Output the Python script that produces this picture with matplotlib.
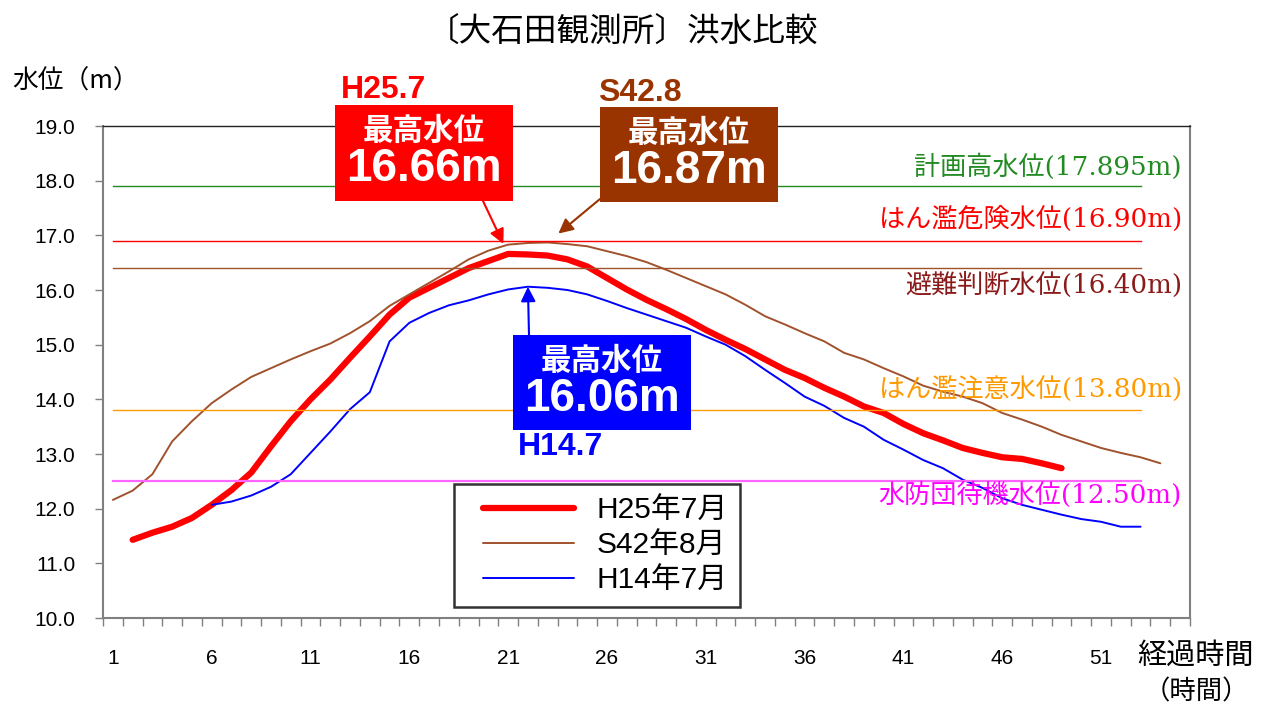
import matplotlib
matplotlib.use("Agg")
import matplotlib.pyplot as plt
from matplotlib.patches import Rectangle
from matplotlib.legend_handler import HandlerLine2D
import numpy as np

# elapsed hours (category axis) and water levels
hours = np.arange(1, 56)
tick_hours = [1, 6, 11, 16, 21, 26, 31, 36, 41, 46, 51]

h25_hours = np.arange(2, 50)
h25_level = [11.43, 11.56, 11.67, 11.83, 12.07, 12.34, 12.66, 13.14, 13.60, 14.00,
             14.36, 14.76, 15.15, 15.55, 15.86, 16.04, 16.22, 16.40, 16.53, 16.66,
             16.65, 16.63, 16.56, 16.43, 16.22, 16.01, 15.82, 15.65, 15.47, 15.27,
             15.09, 14.92, 14.73, 14.54, 14.39, 14.21, 14.05, 13.87, 13.75, 13.55,
             13.38, 13.25, 13.11, 13.02, 12.94, 12.91, 12.83, 12.74]

s42_hours = np.arange(1, 55)
s42_level = [12.16, 12.33, 12.63, 13.23, 13.60, 13.93, 14.18, 14.41, 14.57, 14.73,
             14.88, 15.02, 15.21, 15.43, 15.71, 15.92, 16.13, 16.34, 16.56, 16.72,
             16.83, 16.86, 16.87, 16.84, 16.80, 16.71, 16.62, 16.51, 16.37, 16.22,
             16.07, 15.92, 15.73, 15.52, 15.37, 15.21, 15.06, 14.85, 14.73, 14.57,
             14.42, 14.25, 14.14, 14.05, 13.93, 13.75, 13.63, 13.50, 13.35, 13.23,
             13.11, 13.02, 12.94, 12.83]

h14_hours = np.arange(6, 54)
h14_level = [12.07, 12.13, 12.24, 12.40, 12.63, 13.02, 13.41, 13.82, 14.13, 15.06,
             15.40, 15.58, 15.72, 15.81, 15.92, 16.01, 16.06, 16.04, 16.00, 15.92,
             15.80, 15.67, 15.55, 15.43, 15.31, 15.15, 15.00, 14.79, 14.54, 14.30,
             14.05, 13.88, 13.66, 13.50, 13.26, 13.08, 12.89, 12.74, 12.53, 12.38,
             12.19, 12.07, 11.98, 11.89, 11.81, 11.76, 11.67, 11.67]

series_names = ['H25年7月', 'S42年8月', 'H14年7月']
peak_tags = ['H25.7', 'S42.8', 'H14.7']

ref_hours = np.arange(1, 54)
ref_levels = [17.895, 16.90, 16.40, 13.80, 12.50]
ref_names = ['計画高水位(17.895m)', 'はん濫危険水位(16.90m)', '避難判断水位(16.40m)',
             'はん濫注意水位(13.80m)', '水防団待機水位(12.50m)']

# styles
series_colors = ['#FF0000', '#A0522D', '#0000FF']
series_widths = [4.5, 1.4, 1.4]
box_colors = ['#FF0000', '#993300', '#0000FF']
ref_line_colors = ['#228B22', '#FF0000', '#A0522D', '#FF9900', '#FF66FF']
ref_text_colors = ['#228B22', '#FF0000', '#8B1A1A', '#FF9900', '#FF00FF']
ref_offsets = [14, 16, -12, 15, -10]  # label offset from its line, points

CJK = ['Noto Sans CJK JP']
SANS = ['Liberation Sans', 'Noto Sans CJK JP']
SERIF = ['DejaVu Serif', 'Noto Sans CJK JP']
GREY = '#808080'

W, H = 1277, 709
fig = plt.figure(figsize=(W / 100, H / 100), dpi=100)


def fx(px):
    return px / W


def fy(py):
    return 1 - py / H


ax = fig.add_axes([fx(103), fy(618), 1087 / W, 492 / H])

data = [(h25_hours, h25_level), (s42_hours, s42_level), (h14_hours, h14_level)]
lines = []
for (xs, ys), name, c, lw in zip(data, series_names, series_colors, series_widths):
    ln, = ax.plot(xs, ys, color=c, lw=lw, label=name, solid_capstyle='round', zorder=2)
    lines.append(ln)

for lvl, c in zip(ref_levels, ref_line_colors):
    ax.plot(ref_hours, [lvl] * len(ref_hours), color=c, lw=1.6 if c == '#FF66FF' else 1.0, zorder=3)

for lvl, name, c, off in zip(ref_levels, ref_names, ref_text_colors, ref_offsets):
    ax.annotate(name, xy=(0.9926, lvl), xycoords=('axes fraction', 'data'),
                xytext=(0, off), textcoords='offset points', ha='right', va='center',
                color=c, fontsize=18.8, family=SERIF)

# axes
ax.set_xlim(0.5, 55.5)
ax.set_ylim(10, 19)
ax.set_xticks(np.arange(0.5, 56, 1.0))
ax.set_xticklabels([])
ax.set_xticks(tick_hours, minor=True)
ax.set_xticklabels([str(h) for h in tick_hours], minor=True, fontsize=15, family=SANS)
ax.tick_params(axis='x', which='major', length=5.8, width=1, color=GREY, direction='out')
ax.tick_params(axis='x', which='minor', length=0, pad=22)
ax.set_yticks(np.arange(10, 20, 1))
ax.set_yticklabels([f'{v:.1f}' for v in np.arange(10, 20, 1)], fontsize=15, family=SANS)
ax.tick_params(axis='y', length=5.8, width=1, color=GREY, direction='out', pad=14)

for side in ['left', 'right', 'bottom']:
    ax.spines[side].set_color(GREY)
    ax.spines[side].set_linewidth(1.5)
ax.spines['top'].set_color('#222222')
ax.spines['top'].set_linewidth(1.0)

# legend: handle line inset from the frame like the original
handler = HandlerLine2D(xpad=0.55)
leg = ax.legend(handles=lines, loc='upper left', bbox_to_anchor=(fx(454), fy(484)),
                bbox_transform=fig.transFigure, borderaxespad=0, frameon=True, fancybox=False,
                edgecolor='black', prop={'family': SANS, 'size': 21.5}, handlelength=3.6,
                handletextpad=0.75, borderpad=0.42, labelspacing=0.24,
                handler_map={ln: handler for ln in lines})
leg.get_frame().set_linewidth(1.8)

# titles and axis labels
fig.text(fx(622), fy(32), '〔大石田観測所〕洪水比較', ha='center', va='center', fontsize=23.5, family=CJK)
fig.text(fx(12), fy(82), '水位（m）', ha='left', va='center', fontsize=18.5, family=CJK)
fig.text(fx(1196), fy(656), '経過時間', ha='center', va='center', fontsize=21, family=CJK)
fig.text(fx(1196), fy(692), '（時間）', ha='center', va='center', fontsize=19, family=CJK)

# peak boxes: (left, top, right, bottom) in pixels, tag position, arrow start
boxes = [(335, 105, 513, 201), (600, 107, 778, 202), (513, 335, 691, 430)]
tag_pos = [(341, 90), (598, 93), (518, 447)]
arrow_start = [(483, 201), (600, 199), (529, 335)]
arrow_shrink = [8, 10, 0]

for k, (xs, ys) in enumerate(data):
    i = int(np.argmax(ys))
    peak = ys[i]
    l, t, r, b = boxes[k]
    fig.patches.append(Rectangle((fx(l), fy(b)), (r - l) / W, (b - t) / H,
                                 transform=fig.transFigure, facecolor=box_colors[k],
                                 edgecolor='none', zorder=5))
    cx = (l + r) / 2
    fig.text(fx(cx), fy(t + 26), '最高水位', ha='center', va='center', color='white',
             fontsize=22, fontweight='bold', family=CJK, zorder=6)
    fig.text(fx(cx), fy(t + 64), f'{peak:.2f}m', ha='center', va='center', color='white',
             fontsize=33, fontweight='bold', family=SANS, zorder=6)
    fig.text(fx(tag_pos[k][0]), fy(tag_pos[k][1]), peak_tags[k], ha='left', va='center',
             color=box_colors[k], fontsize=23, fontweight='bold', family=SANS, zorder=6)
    ax.annotate('', xy=(xs[i], peak), xycoords='data',
                xytext=(fx(arrow_start[k][0]), fy(arrow_start[k][1])), textcoords='figure fraction',
                arrowprops=dict(arrowstyle='-|>', color=box_colors[k], lw=1.5,
                                mutation_scale=22, shrinkA=0, shrinkB=arrow_shrink[k]),
                zorder=4)

fig.savefig('out.png', dpi=100)
